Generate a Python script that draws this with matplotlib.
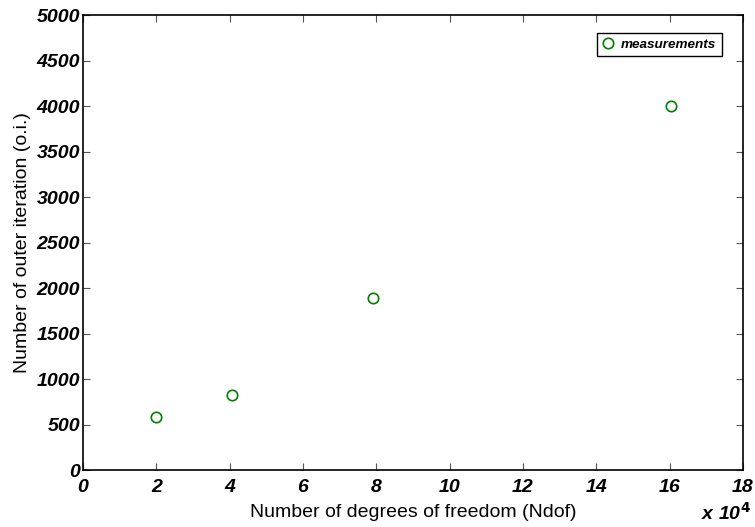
import matplotlib.pyplot as plt
from matplotlib.ticker import FuncFormatter

ndof = [1.98e4, 4.07e4, 7.92e4, 16.03e4]
outer_iter = [580, 825, 1890, 4000]
xticks = [0, 2e4, 4e4, 6e4, 8e4, 10e4, 12e4, 14e4, 16e4, 18e4]
yticks = [0, 500, 1000, 1500, 2000, 2500, 3000, 3500, 4000, 4500, 5000]

plt.rcParams['font.family'] = ['Liberation Sans', 'DejaVu Sans']

fig = plt.figure(figsize=(7.55, 5.27), dpi=100)
ax = fig.add_axes([0.110, 0.108, 0.874, 0.8635])

ax.plot(ndof, outer_iter, 'o', mfc='none', mec='#008000', mew=1.2, ms=7.5,
        label='measurements')

ax.set_xlim(0, 18e4)
ax.set_ylim(0, 5000)
ax.set_xticks(xticks)
ax.set_yticks(yticks)
ax.xaxis.set_major_formatter(FuncFormatter(lambda v, p: '%d' % round(v / 1e4)))
ax.tick_params(direction='in', length=5, width=0.8, top=True, right=True,
               labelsize=14, colors='#555555', labelcolor='black')
ax.tick_params(axis='x', pad=6.5)
ax.tick_params(axis='y', pad=2)
for lab in ax.get_xticklabels() + ax.get_yticklabels():
    lab.set_fontweight('bold')
    lab.set_fontstyle('italic')
for s in ax.spines.values():
    s.set_linewidth(1.2)

fig.text(0.994, 0.014, r'x 10$^{\mathbf{4}}$', ha='right', va='baseline',
         fontsize=14, fontweight='bold', style='italic')

ax.set_xlabel('Number of degrees of freedom (Ndof)', fontsize=14, labelpad=6)
ax.set_ylabel('Number of outer iteration (o.i.)', fontsize=14, labelpad=4)

leg = ax.legend(loc='upper right', bbox_to_anchor=(0.968, 0.96), fancybox=False,
                edgecolor='black', framealpha=1, handlelength=0.8,
                handletextpad=0.6, borderpad=0.4, borderaxespad=0,
                prop={'size': 9.7, 'weight': 'bold', 'style': 'italic'})
leg.get_frame().set_linewidth(1.0)

fig.savefig('out.png', dpi=100)
